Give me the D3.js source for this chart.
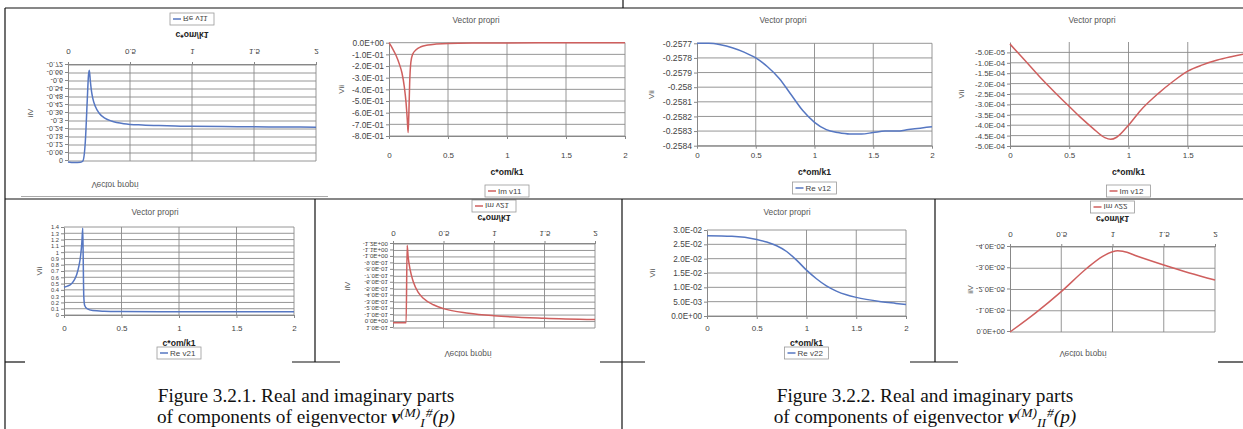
<!DOCTYPE html>
<html>
<head>
<meta charset="utf-8">
<script src="https://cdn.jsdelivr.net/npm/d3@7"></script>
<style>
  body { margin: 0; background: #fff; }
  svg text { font-family: "Liberation Sans", Arial, sans-serif; }
  .cap { font-family: "Liberation Serif", "Times New Roman", serif; }
</style>
</head>
<body>
<svg id="fig" width="1243" height="429"></svg>
<script>
// ---------- values ----------
const xTicks = [0, 0.5, 1, 1.5, 2];

// Re v11 (chart printed upside down)
const re11X = [0, 0.05, 0.1, 0.12, 0.14, 0.155, 0.165, 0.172, 0.18, 0.19, 0.2, 0.22, 0.25, 0.3, 0.35, 0.45, 0.6, 0.8, 1.0, 1.25, 1.5, 1.75, 2.0];
const re11Y = [0.008, 0.012, 0.01, 0.0, -0.15, -0.45, -0.64, -0.68, -0.6, -0.52, -0.47, -0.41, -0.36, -0.32, -0.3, -0.28, -0.27, -0.265, -0.26, -0.258, -0.256, -0.255, -0.254];
const re11Ticks = [0, -0.06, -0.12, -0.18, -0.24, -0.3, -0.36, -0.42, -0.48, -0.54, -0.6, -0.66, -0.72];

// Im v11
const im11X = [0, 0.03, 0.06, 0.09, 0.11, 0.13, 0.145, 0.155, 0.162, 0.168, 0.175, 0.185, 0.2, 0.23, 0.27, 0.33, 0.4, 0.5, 0.75, 1, 1.5, 2];
const im11Y = [0, -0.05, -0.11, -0.19, -0.26, -0.38, -0.52, -0.66, -0.77, -0.62, -0.35, -0.17, -0.1, -0.06, -0.035, -0.02, -0.012, -0.006, -0.003, -0.002, -0.001, -0.001];
const im11Ticks = [0, -0.1, -0.2, -0.3, -0.4, -0.5, -0.6, -0.7, -0.8];

// Re v12
const re12X = [0, 0.1, 0.2, 0.3, 0.4, 0.5, 0.6, 0.7, 0.8, 0.9, 1.0, 1.1, 1.2, 1.3, 1.4, 1.5, 1.6, 1.7, 1.8, 1.9, 2.0];
const re12Y = [-0.25770, -0.25770, -0.25771, -0.25773, -0.25776, -0.25780, -0.25786, -0.25794, -0.25805, -0.25816, -0.25824, -0.25829, -0.25831, -0.25832, -0.25832, -0.25831, -0.25830, -0.25830, -0.25829, -0.25828, -0.25827];
const re12Ticks = [-0.2577, -0.2578, -0.2579, -0.258, -0.2581, -0.2582, -0.2583, -0.2584];

// Im v12
const im12X = [0, 0.125, 0.25, 0.375, 0.5, 0.6, 0.7, 0.8, 0.85, 0.9, 1.0, 1.1, 1.25, 1.375, 1.5, 1.625, 1.75, 1.875, 2.0];
const im12Y = [-0.1e-4, -0.88e-4, -1.67e-4, -2.4e-4, -3.1e-4, -3.65e-4, -4.15e-4, -4.6e-4, -4.68e-4, -4.58e-4, -4.0e-4, -3.3e-4, -2.48e-4, -1.9e-4, -1.4e-4, -1.1e-4, -0.87e-4, -0.7e-4, -0.55e-4];
const im12Ticks = [-5e-5, -1e-4, -1.5e-4, -2e-4, -2.5e-4, -3e-4, -3.5e-4, -4e-4, -4.5e-4, -5e-4];

// Re v21
const re21X = [0, 0.03, 0.06, 0.09, 0.11, 0.13, 0.145, 0.155, 0.163, 0.167, 0.172, 0.18, 0.2, 0.25, 0.35, 0.5, 1, 1.5, 2];
const re21Y = [0.44, 0.46, 0.49, 0.56, 0.64, 0.78, 0.95, 1.15, 1.38, 0.9, 0.3, 0.15, 0.1, 0.07, 0.06, 0.055, 0.05, 0.05, 0.05];
const re21Ticks = [0, 0.1, 0.2, 0.3, 0.4, 0.5, 0.6, 0.7, 0.8, 0.9, 1, 1.1, 1.2, 1.3, 1.4];

// Im v21 (chart printed upside down)
const im21X = [0, 0.05, 0.1, 0.13, 0.14, 0.15, 0.17, 0.2, 0.25, 0.3, 0.4, 0.5, 0.75, 1, 1.5, 2];
const im21Y = [0.02, 0.02, 0.02, 0.02, -1.18, -1.0, -0.8, -0.62, -0.45, -0.36, -0.26, -0.2, -0.13, -0.09, -0.05, -0.03];
const im21Ticks = [0.1, 0, -0.1, -0.2, -0.3, -0.4, -0.5, -0.6, -0.7, -0.8, -0.9, -1.0, -1.1, -1.2];

// Re v22
const re22X = [0, 0.25, 0.5, 0.6, 0.7, 0.8, 0.9, 1.0, 1.1, 1.2, 1.3, 1.4, 1.5, 1.6, 1.75, 1.9, 2.0];
const re22Y = [0.028, 0.0278, 0.0267, 0.0258, 0.0245, 0.0225, 0.0195, 0.016, 0.013, 0.0105, 0.0087, 0.0074, 0.0065, 0.0058, 0.005, 0.0044, 0.004];
const re22Ticks = [0, 0.005, 0.01, 0.015, 0.02, 0.025, 0.03];

// Im v22 (chart printed upside down)
const im22X = [0, 0.25, 0.5, 0.75, 0.9, 1.0, 1.05, 1.1, 1.25, 1.5, 1.75, 2];
const im22Y = [0, -0.9e-5, -1.9e-5, -3.0e-5, -3.55e-5, -3.78e-5, -3.82e-5, -3.8e-5, -3.55e-5, -3.15e-5, -2.78e-5, -2.45e-5];
const im22Ticks = [0, -1e-5, -2e-5, -3e-5, -4e-5];

// ---------- styling ----------
const BLUE = "#5677c2", RED = "#cf5f5e";
const GRID = "#8a8a8a", AXIS = "#888", TXT = "#444";
const PAGE_W = 1243;

// Excel style scientific labels, e.g. -5.0E-05
function sci(d) {
  let [m, e] = d.toExponential(1).split("e");
  e = +e;
  return m + "E" + (e < 0 ? "-" : "+") + String(Math.abs(e)).padStart(2, "0");
}
function dec(d) { return String(+d.toFixed(5)); }

const svg = d3.select("#fig");

// panel layouts (flipped ones are drawn upright, then mirrored around "mid")
const panels = [
  { xs: re11X, ys: re11Y, color: BLUE, legend: "Re v11", ticks: re11Ticks, dom: [-0.72, 0], fmt: dec, fs: 7.2,
    flip: true, mid: 103, x0: 68, x1: 316, yt: 45, yb: 141, titleX: 115, titleY: 21, yTitleX: 30,
    xLabY: 154, xTitleY: 171, legY: 187 },
  { xs: im11X, ys: im11Y, color: RED, legend: "Im v11", ticks: im11Ticks, dom: [-0.8, 0], fmt: sci, fs: 8.4,
    x0: 389, x1: 625, yt: 42.7, yb: 136, titleX: 476, titleY: 20, yTitleX: 341,
    xLabY: 155, xTitleY: 172, legY: 191 },
  { xs: re12X, ys: re12Y, color: BLUE, legend: "Re v12", ticks: re12Ticks, dom: [-0.2584, -0.2577], fmt: dec, fs: 8.6,
    x0: 697, x1: 932, yt: 43.3, yb: 145.7, titleX: 783, titleY: 20, yTitleX: 651,
    xLabY: 155, xTitleY: 172, legY: 188 },
  { xs: im12X, ys: im12Y, color: RED, legend: "Im v12", ticks: im12Ticks, dom: [-5e-4, 0], fmt: sci, fs: 7.8,
    x0: 1010, x1: 1247, yt: 42, yb: 146, titleX: 1092, titleY: 20, yTitleX: 961,
    xLabY: 155, xTitleY: 172, legY: 191 },
  { xs: re21X, ys: re21Y, color: BLUE, legend: "Re v21", ticks: re21Ticks, dom: [0, 1.4], fmt: dec, fs: 5.8,
    x0: 64, x1: 294, yt: 227, yb: 315, titleX: 155, titleY: 212, yTitleX: 39,
    xLabY: 328, xTitleY: 343, legY: 353 },
  { xs: im21X, ys: im21Y, color: RED, legend: "Im v21", ticks: im21Ticks, dom: [-1.2, 0.1], fmt: sci, fs: 6.2,
    flip: true, mid: 280, x0: 393, x1: 595, yt: 232, yb: 316, titleX: 468, titleY: 206, yTitleX: 347,
    xLabY: 326, xTitleY: 342, legY: 354 },
  { xs: re22X, ys: re22Y, color: BLUE, legend: "Re v22", ticks: re22Ticks, dom: [0, 0.03], fmt: sci, fs: 8.2,
    x0: 707, x1: 906, yt: 230, yb: 316, titleX: 787, titleY: 212, yTitleX: 652,
    xLabY: 328, xTitleY: 343, legY: 353 },
  { xs: im22X, ys: im22Y, color: RED, legend: "Im v22", ticks: im22Ticks, dom: [-4e-5, 0], fmt: sci, fs: 7.6,
    flip: true, mid: 280, x0: 1010, x1: 1215, yt: 228, yb: 313, titleX: 1083, titleY: 206, yTitleX: 970,
    xLabY: 325, xTitleY: 341, legY: 353 }
];

function drawPanel(p) {
  const g = svg.append("g");
  if (p.flip) g.attr("transform", `translate(0,${2 * p.mid}) scale(1,-1)`);

  const x = d3.scaleLinear().domain([0, 2]).range([p.x0, p.x1]);
  const y = d3.scaleLinear().domain(p.dom).range([p.yb, p.yt]);
  const shownX = xTicks.filter(d => x(d) < PAGE_W - 2);

  // gridlines
  g.append("g").selectAll("line").data(p.ticks).join("line")
    .attr("x1", p.x0).attr("x2", p.x1)
    .attr("y1", d => y(d)).attr("y2", d => y(d))
    .attr("stroke", GRID).attr("stroke-width", 0.9);
  g.append("g").selectAll("line").data(shownX.slice(1)).join("line")
    .attr("x1", d => x(d)).attr("x2", d => x(d))
    .attr("y1", p.yt).attr("y2", p.yb)
    .attr("stroke", GRID).attr("stroke-width", 0.9);

  // axes
  const ya = g.append("g").attr("transform", `translate(${p.x0},0)`)
    .call(d3.axisLeft(y).tickValues(p.ticks).tickFormat(p.fmt).tickSize(3).tickSizeOuter(0).tickPadding(2));
  const xa = g.append("g").attr("transform", `translate(0,${p.yb})`)
    .call(d3.axisBottom(x).tickValues(shownX).tickFormat(d3.format("")).tickSize(3).tickSizeOuter(0));
  [ya, xa].forEach(a => {
    a.select(".domain").attr("stroke", AXIS);
    a.selectAll(".tick line").attr("stroke", AXIS);
    a.selectAll("text").attr("fill", TXT).attr("font-family", "Liberation Sans, Arial, sans-serif");
  });
  ya.selectAll("text").attr("font-size", p.fs);
  xa.selectAll("text").attr("font-size", 8).attr("y", p.xLabY - p.yb).attr("dy", "0.35em");

  // series
  const pts = p.xs.map((v, i) => [v, p.ys[i]]);
  g.append("path").datum(pts)
    .attr("fill", "none").attr("stroke", p.color).attr("stroke-width", 1.5)
    .attr("d", d3.line().x(d => x(d[0])).y(d => y(d[1])).curve(d3.curveMonotoneX));

  // texts
  g.append("text").attr("x", p.titleX).attr("y", p.titleY).attr("dy", "0.35em")
    .attr("text-anchor", "middle").attr("font-size", 8.3).attr("fill", "#555").text("Vector propri");
  const cx = (p.x0 + Math.min(p.x1, PAGE_W + 4)) / 2;
  g.append("text").attr("x", cx).attr("y", p.xTitleY).attr("dy", "0.35em")
    .attr("text-anchor", "middle").attr("font-size", 8.6).attr("font-weight", "bold").attr("fill", "#222")
    .text("c*om/k1");
  const cy = (p.yt + p.yb) / 2;
  g.append("text").attr("transform", `translate(${p.yTitleX},${cy}) rotate(-90)`).attr("dy", "0.35em")
    .attr("text-anchor", "middle").attr("font-size", 8).attr("fill", "#555").text("Vii");

  // legend
  const lw = 44, lh = 12;
  const lg = g.append("g").attr("transform", `translate(${cx - lw / 2},${p.legY - lh / 2})`);
  lg.append("rect").attr("width", lw).attr("height", lh).attr("fill", "#fff")
    .attr("stroke", "#9a9a9a").attr("stroke-width", 0.8);
  lg.append("line").attr("x1", 3).attr("x2", 11).attr("y1", lh / 2).attr("y2", lh / 2)
    .attr("stroke", p.color).attr("stroke-width", 1.5);
  lg.append("text").attr("x", 13).attr("y", lh / 2).attr("dy", "0.35em")
    .attr("font-size", 8).attr("fill", "#444").text(p.legend);
}

panels.forEach(drawPanel);

// ---------- table rules of the page ----------
const rules = [
  [5, 8, 1243, 8], [5, 8, 5, 429], [5, 199, 1243, 199],
  [315, 199, 315, 362], [622, 199, 622, 429], [623, 0, 623, 8], [935, 199, 935, 362],
  [5, 362, 25, 362], [292, 362, 340, 362], [600, 362, 645, 362], [910, 362, 958, 362], [1218, 362, 1243, 362]
];
svg.append("g").selectAll("line").data(rules).join("line")
  .attr("x1", d => d[0]).attr("y1", d => d[1]).attr("x2", d => d[2]).attr("y2", d => d[3])
  .attr("stroke", "#111").attr("stroke-width", 1.2);
svg.append("line").attr("x1", 21).attr("x2", 328).attr("y1", 196.5).attr("y2", 196.5)
  .attr("stroke", "#aaa").attr("stroke-width", 1);

// ---------- captions ----------
const captions = [
  { cx: 306, num: "3.2.1", sub: "I" },
  { cx: 925, num: "3.2.2", sub: "II" }
];
captions.forEach(c => {
  svg.append("text").attr("class", "cap").attr("x", c.cx).attr("y", 402)
    .attr("text-anchor", "middle").attr("font-size", 19.3).attr("fill", "#111")
    .text(`Figure ${c.num}. Real and imaginary parts`);
  const t = svg.append("text").attr("class", "cap").attr("x", c.cx).attr("y", 423)
    .attr("text-anchor", "middle").attr("font-size", 19.3).attr("fill", "#111");
  t.append("tspan").text("of components of eigenvector ");
  t.append("tspan").attr("font-weight", "bold").attr("font-style", "italic").text("v");
  t.append("tspan").attr("font-style", "italic").attr("font-size", 13.5).attr("dy", -6).text("(M)");
  t.append("tspan").attr("font-style", "italic").attr("font-size", 13.5).attr("dy", 10).text(c.sub);
  t.append("tspan").attr("font-style", "italic").attr("font-size", 13.5).attr("dx", 1).attr("dy", -10).text("#");
  t.append("tspan").attr("font-style", "italic").attr("dy", 6).text("(p)");
});
</script>
</body>
</html>
